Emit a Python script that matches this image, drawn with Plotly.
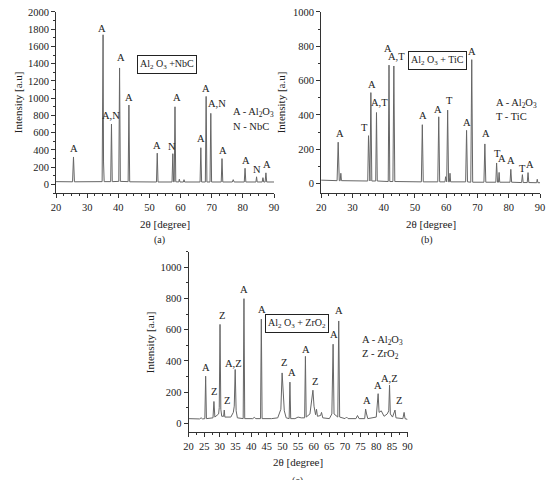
import plotly.graph_objects as go

# ---------------- Data ----------------
# Panel (a): Al2O3 + NbC
a_x = [20, 25.3, 25.6, 25.9, 34.8, 35.1, 35.25, 35.45, 37.55, 37.8, 38.05, 40.15, 40.4, 40.65,
       43.15, 43.4, 43.65, 52.25, 52.5, 52.75, 57.25, 57.5, 57.75, 57.95, 58.2, 58.45,
       59.4, 59.6, 59.8, 60.9, 61.1, 61.3, 66.25, 66.5, 66.75, 67.95, 68.2, 68.45,
       69.45, 69.7, 69.95, 73.05, 73.3, 73.55, 76.6, 76.9, 77.2, 80.45, 80.7, 80.95,
       84.2, 84.4, 84.6, 86.2, 86.45, 86.7, 87.15, 87.4, 87.65, 90]
a_y = [32, 30, 318, 30, 32, 1735, 260, 32, 32, 700, 32, 35, 1350, 35,
       32, 920, 30, 28, 362, 28, 28, 356, 30, 30, 900, 30,
       28, 60, 28, 28, 55, 28, 28, 425, 28, 28, 1020, 28,
       28, 824, 28, 28, 299, 28, 28, 55, 28, 28, 187, 28,
       28, 88, 28, 28, 78, 28, 28, 134, 28, 28]

# Panel (b): Al2O3 + TiC
b_x = [20, 25.1, 25.45, 25.8, 26.1, 26.3, 26.5, 34.9, 35.15, 35.45, 35.6, 35.9, 36.2,
       37.45, 37.7, 37.95, 41.45, 41.7, 41.95, 42.95, 43.25, 43.55, 52.05, 52.35, 52.65,
       57.3, 57.6, 57.9, 59.6, 59.8, 60.0, 60.15, 60.45, 60.75, 61.0, 61.2, 61.4,
       66.2, 66.5, 66.8, 67.85, 68.15, 68.45, 72.05, 72.35, 72.65, 75.85, 76.1, 76.4,
       76.7, 76.9, 77.1, 80.4, 80.65, 80.9, 84.1, 84.35, 84.6, 85.9, 86.15, 86.4,
       88.9, 89.1, 89.3, 90]
b_y = [20, 17, 241, 17, 17, 60, 17, 15, 279, 15, 15, 530, 15,
       15, 414, 15, 12, 690, 12, 12, 685, 12, 10, 343, 10,
       10, 389, 10, 10, 40, 10, 10, 428, 10, 10, 60, 10,
       10, 310, 10, 8, 722, 8, 8, 231, 8, 8, 120, 8,
       8, 65, 8, 8, 83, 8, 6, 52, 6, 6, 64, 6,
       5, 25, 5, 5]

# Panel (c): Al2O3 + ZrO2
c_x = [20, 23.5, 24.0, 24.5, 25.2, 25.45, 25.7, 27.8, 28.1, 28.4, 29.6, 29.8, 30.05, 30.3,
       30.6, 31.2, 31.4, 31.6, 33.5, 34.3, 34.6, 34.9, 35.2, 35.6, 37.45, 37.7, 37.95,
       40.5, 41.0, 41.5, 43.0, 43.25, 43.5, 46.5, 48.5, 49.5, 49.9, 50.2, 50.6, 51.2,
       52.15, 52.4, 52.65, 54.0, 55.0, 56.0, 57.1, 57.35, 57.6, 58.8, 59.4, 59.75, 60.1,
       60.6, 60.9, 61.2, 62.2, 62.5, 62.9, 65.0, 65.8, 66.2, 66.5, 67.7, 68.0, 68.3,
       70.0, 70.5, 71.0, 73.5, 74.0, 74.5, 76.3, 76.6, 76.9, 77.3, 80.0, 80.6, 80.9,
       81.6, 82.5, 83.5, 84.0, 84.25, 84.5, 85.2, 86.0, 86.3, 88.5, 88.9, 89.2, 90]
c_y = [30, 28, 35, 28, 30, 302, 30, 35, 140, 40, 60, 100, 634, 90,
       45, 45, 85, 40, 40, 70, 110, 345, 80, 35, 30, 799, 30,
       30, 38, 30, 30, 668, 30, 30, 35, 90, 323, 210, 80, 35,
       30, 264, 30, 30, 40, 35, 35, 429, 40, 60, 140, 212, 110,
       55, 90, 45, 50, 70, 35, 30, 60, 507, 60, 40, 656, 40,
       30, 40, 30, 30, 50, 30, 30, 91, 60, 30, 40, 190, 70,
       80, 45, 60, 80, 245, 60, 40, 85, 35, 30, 70, 30, 25]

# Peak labels
a_lab_x = [25.7, 34.6, 37.6, 40.7, 43.5, 52.5, 57.2, 58.8, 66.7, 68.3, 71.7, 73.5, 80.9, 84.6, 87.7]
a_lab_y = [414, 1812, 797, 1467, 1008, 452, 440, 1008, 529, 1115, 939, 394, 279, 176, 233]
a_lab_t = ["A", "A", "A,N", "A", "A", "A", "N", "A", "A", "A", "A,N", "A", "A", "N", "A"]

b_lab_x = [25.9, 33.8, 36.3, 38.7, 41.4, 44.2, 52.6, 57.4, 60.9, 66.5, 68.2, 72.7, 76.3, 77.8, 80.6, 84.3, 86.7]
b_lab_y = [289, 328, 578, 472, 785, 742, 395, 434, 482, 356, 771, 289, 175, 145, 135, 87, 110]
b_lab_t = ["A", "T", "A", "A,T", "A", "A,T", "A", "A", "T", "A", "A", "A", "T", "A", "A", "T", "A"]

c_lab_x = [25.7, 28.1, 30.6, 32.2, 34.5, 37.7, 43.5, 50.4, 53.1, 57.6, 60.4, 66.5, 68.2, 77.1, 80.4, 84.3, 87.4]
c_lab_y = [355, 207, 694, 144, 383, 856, 732, 387, 328, 476, 266, 567, 721, 148, 245, 288, 144]
c_lab_t = ["A", "Z", "Z", "Z", "A,Z", "A", "A", "Z", "A", "A", "Z", "A", "A", "A", "A", "A,Z", "Z"]

titles = ["Al<sub>2</sub> O<sub>3</sub> +NbC", "Al<sub>2</sub> O<sub>3</sub> + TiC", "Al<sub>2</sub> O<sub>3</sub> + ZrO<sub>2</sub>"]
keys = [["A - Al<sub>2</sub>O<sub>3</sub>", "N - NbC"],
        ["A - Al<sub>2</sub>O<sub>3</sub>", "T - TiC"],
        ["A - Al<sub>2</sub>O<sub>3</sub>", "Z - ZrO<sub>2</sub>"]]
captions = ["(a)", "(b)", "(c)"]
x_label = "2θ [degree]"
y_label = "Intensity [a.u]"

# ---------------- Figure ----------------
W, H = 549, 480
FONT = "Liberation Serif, Times New Roman, serif"
LINE = "#666666"
AX = "#333333"
TXT = "#222222"

fig = go.Figure()

panels = [
    dict(x=a_x, y=a_y, lx=a_lab_x, ly=a_lab_y, lt=a_lab_t, xa="x", ya="y",
         dom_x=[52, 274], dom_y=[7, 190], yr=[-100, 2000], ydt=200, ymn=100, xdt=10, xmn=2.5,
         box=(55.6, 1391), key=(76.1, 828, 670), ytitle_px=14, cap=(157, 237),
         xtitle_py=221),
    dict(x=b_x, y=b_y, lx=b_lab_x, ly=b_lab_y, lt=b_lab_t, xa="x2", ya="y2",
         dom_x=[322, 545], dom_y=[7, 190], yr=[-55, 1000], ydt=200, ymn=100, xdt=10, xmn=2.5,
         box=(57.2, 718), key=(75.2, 468, 389), ytitle_px=282, cap=(430, 237),
         xtitle_py=221),
    dict(x=c_x, y=c_y, lx=c_lab_x, ly=c_lab_y, lt=c_lab_t, xa="x3", ya="y3",
         dom_x=[187, 410], dom_y=[249.3, 431.7], yr=[-57, 1100], ydt=200, ymn=100, xdt=5, xmn=2.5,
         box=(54.8, 637), key=(74.8, 531, 440), ytitle_px=148, cap=(298, 481),
         xtitle_py=462),
]

layout = dict(
    width=W, height=H, margin=dict(l=0, r=0, t=0, b=0),
    paper_bgcolor="white", plot_bgcolor="white", showlegend=False,
    font=dict(family=FONT, size=11, color=TXT),
)
annotations = []

for i, p in enumerate(panels):
    fig.add_trace(go.Scatter(x=p["x"], y=p["y"], mode="lines", xaxis=p["xa"], yaxis=p["ya"],
                             line=dict(color=LINE, width=1), hoverinfo="skip"))
    xk = "xaxis" + ("" if i == 0 else str(i + 1))
    yk = "yaxis" + ("" if i == 0 else str(i + 1))
    layout[xk] = dict(
        domain=[p["dom_x"][0] / W, p["dom_x"][1] / W], anchor=p["ya"], range=[20, 90],
        tickmode="linear", tick0=20, dtick=p["xdt"], ticks="outside", ticklen=4, tickcolor=AX,
        showline=True, linecolor=AX, linewidth=1, showgrid=False, zeroline=False,
        tickfont=dict(family=FONT, size=10.5, color=TXT),
        minor=dict(dtick=p["xmn"], tick0=20, ticks="outside", ticklen=2, tickcolor=AX),
    )
    layout[yk] = dict(
        domain=[1 - p["dom_y"][1] / H, 1 - p["dom_y"][0] / H], anchor=p["xa"], range=p["yr"],
        tickmode="linear", tick0=0, dtick=p["ydt"], ticks="outside", ticklen=4, tickcolor=AX,
        showline=True, linecolor=AX, linewidth=1, showgrid=False, zeroline=False,
        tickfont=dict(family=FONT, size=10.5, color=TXT),
        minor=dict(dtick=p["ymn"], tick0=0, ticks="outside", ticklen=2, tickcolor=AX),
    )
    xr, yr = p["xa"], p["ya"]
    for lx, ly, lt in zip(p["lx"], p["ly"], p["lt"]):
        annotations.append(dict(x=lx, y=ly, xref=xr, yref=yr, text=lt, showarrow=False,
                                xanchor="center", yanchor="middle",
                                font=dict(family=FONT, size=10.5, color=TXT)))
    annotations.append(dict(x=p["box"][0], y=p["box"][1], xref=xr, yref=yr, text=titles[i],
                            showarrow=False, bordercolor=TXT, borderwidth=1, borderpad=2,
                            xanchor="center", yanchor="middle",
                            bgcolor="white", font=dict(family=FONT, size=10, color=TXT)))
    annotations.append(dict(x=p["key"][0], y=p["key"][1], xref=xr, yref=yr, text=keys[i][0],
                            showarrow=False, xanchor="left", yanchor="middle",
                            font=dict(family=FONT, size=10.5, color=TXT)))
    annotations.append(dict(x=p["key"][0], y=p["key"][2], xref=xr, yref=yr, text=keys[i][1],
                            showarrow=False, xanchor="left", yanchor="middle",
                            font=dict(family=FONT, size=10.5, color=TXT)))
    # axis titles and captions
    cx = (p["dom_x"][0] + p["dom_x"][1]) / 2
    annotations.append(dict(x=cx / W, y=1 - p["xtitle_py"] / H, xref="paper", yref="paper",
                            text=x_label, showarrow=False, xanchor="center", yanchor="middle",
                            font=dict(family=FONT, size=11, color=TXT)))
    cy = (p["dom_y"][0] + p["dom_y"][1]) / 2
    annotations.append(dict(x=p["ytitle_px"] / W, y=1 - cy / H, xref="paper", yref="paper",
                            text=y_label, showarrow=False, textangle=-90,
                            xanchor="center", yanchor="middle",
                            font=dict(family=FONT, size=11, color=TXT)))
    annotations.append(dict(x=p["cap"][0] / W, y=1 - p["cap"][1] / H, xref="paper", yref="paper",
                            text=captions[i], showarrow=False, xanchor="center", yanchor="middle",
                            font=dict(family=FONT, size=10, color=TXT)))

layout["annotations"] = annotations
fig.update_layout(**layout)
fig.write_html("out.html")
